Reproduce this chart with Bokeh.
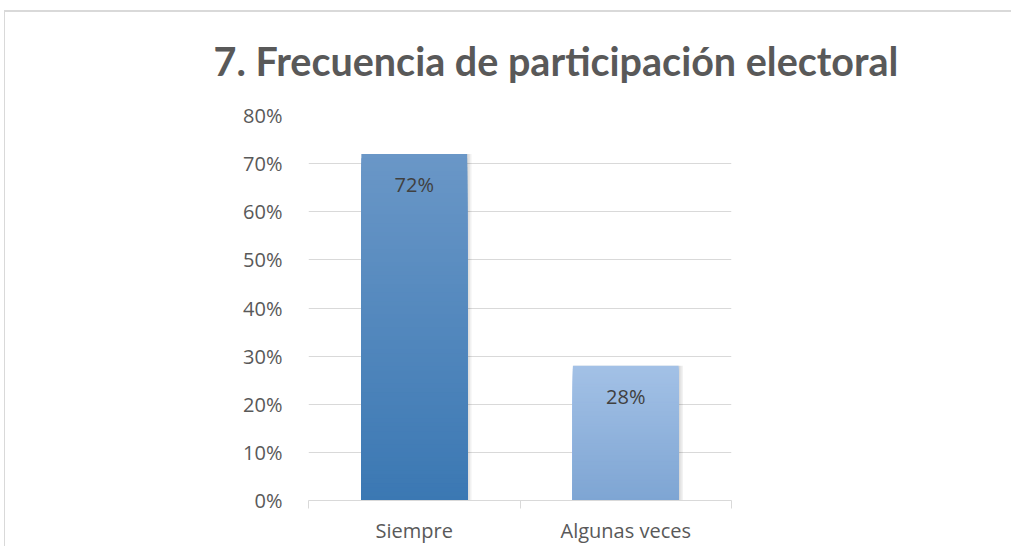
from bokeh.plotting import figure
from bokeh.models import FixedTicker, NumeralTickFormatter, Title, Range1d
from bokeh.core.properties import value
from bokeh.embed import file_html
from bokeh.resources import INLINE

# ---- data ----
categories = ["Siempre", "Algunas veces"]
values = [0.72, 0.28]
value_labels = ["72%", "28%"]
top_colors = ["#6a97c7", "#a3c1e6"]
bottom_colors = ["#3b78b3", "#7ea5d3"]
y_ticks = [0.0, 0.1, 0.2, 0.3, 0.4, 0.5, 0.6, 0.7, 0.8]
title_text = "7. Frecuencia de participación electoral"

FONT = "Open Sans"

p = figure(width=1011, height=546, x_range=Range1d(0, len(categories)), y_range=Range1d(0, 0.8),
           output_backend="svg", toolbar_location=None, title=None,
           min_border_left=308, min_border_right=280, min_border_top=115, min_border_bottom=46)
p.outline_line_color = None
p.background_fill_color = "white"
p.border_fill_alpha = 0
p.styles = {"background": "linear-gradient(#d9d9d9,#d9d9d9) 4px 10px / 1007px 2px no-repeat, "
                          "linear-gradient(#d9d9d9,#d9d9d9) 4px 10px / 1px 536px no-repeat, white"}

centers = [i + 0.5 for i in range(len(categories))]
bar_w = 0.5


def hex2rgb(h):
    h = h.lstrip("#")
    return tuple(int(h[i:i + 2], 16) for i in (0, 2, 4))


def mix(c1, c2, t):
    a, b = hex2rgb(c1), hex2rgb(c2)
    return "#%02x%02x%02x" % tuple(round(a[k] + (b[k] - a[k]) * t) for k in range(3))


# soft shadow
for k in range(1, 4):
    p.vbar(x=[c + 0.004 * k for c in centers], width=bar_w + 0.006 * k, top=values,
           bottom=0, fill_color="#000000", fill_alpha=0.05, line_color=None)

# gradient bars: nested bars from tallest to shortest (no seams)
N = 80
xs, tops, cols = [], [], []
for c, v, tc, bc in zip(centers, values, top_colors, bottom_colors):
    for k in range(N, 0, -1):
        xs.append(c)
        tops.append(v * k / N)
        cols.append(mix(bc, tc, (k - 0.5) / N))
p.vbar(x=xs, width=bar_w, bottom=0, top=tops, fill_color=cols, line_color=None)

# data labels
p.text(x=centers, y=values, text=value_labels, text_align="center", text_baseline="top",
       y_offset=17, text_font=value(FONT), text_font_size="20px", text_color="#404040")

# y axis
p.yaxis.ticker = FixedTicker(ticks=y_ticks)
p.yaxis.formatter = NumeralTickFormatter(format="0%")
p.yaxis.axis_line_color = None
p.yaxis.major_tick_line_color = None
p.yaxis.minor_tick_line_color = None
p.yaxis.major_label_standoff = 20
p.yaxis.major_label_text_font = FONT
p.yaxis.major_label_text_font_size = "20px"
p.yaxis.major_label_text_color = "#595959"

# x axis: labels at bar centres, tick marks at category boundaries
p.xaxis.ticker = FixedTicker(ticks=centers, minor_ticks=list(range(len(categories) + 1)))
p.xaxis.major_label_overrides = {c: lab for c, lab in zip(centers, categories)}
p.xaxis.major_tick_line_color = None
p.xaxis.major_tick_out = 0
p.xaxis.major_tick_in = 0
p.xaxis.minor_tick_line_color = "#d9d9d9"
p.xaxis.minor_tick_out = 8
p.xaxis.minor_tick_in = 0
p.xaxis.axis_line_color = "#d9d9d9"
p.xaxis.major_label_standoff = 8
p.xaxis.major_label_text_font = FONT
p.xaxis.major_label_text_font_size = "20px"
p.xaxis.major_label_text_color = "#595959"

# grid
p.xgrid.grid_line_color = None
p.ygrid.ticker = FixedTicker(ticks=y_ticks)
p.ygrid.grid_line_color = "#d9d9d9"

# title
p.add_layout(Title(text=title_text, align="left", offset=-95, standoff=63,
                   text_font="Lato", text_font_size="39.5px",
                   text_font_style="bold", text_color="#595959"), "above")

open("out.html", "w").write(file_html(p, INLINE))
